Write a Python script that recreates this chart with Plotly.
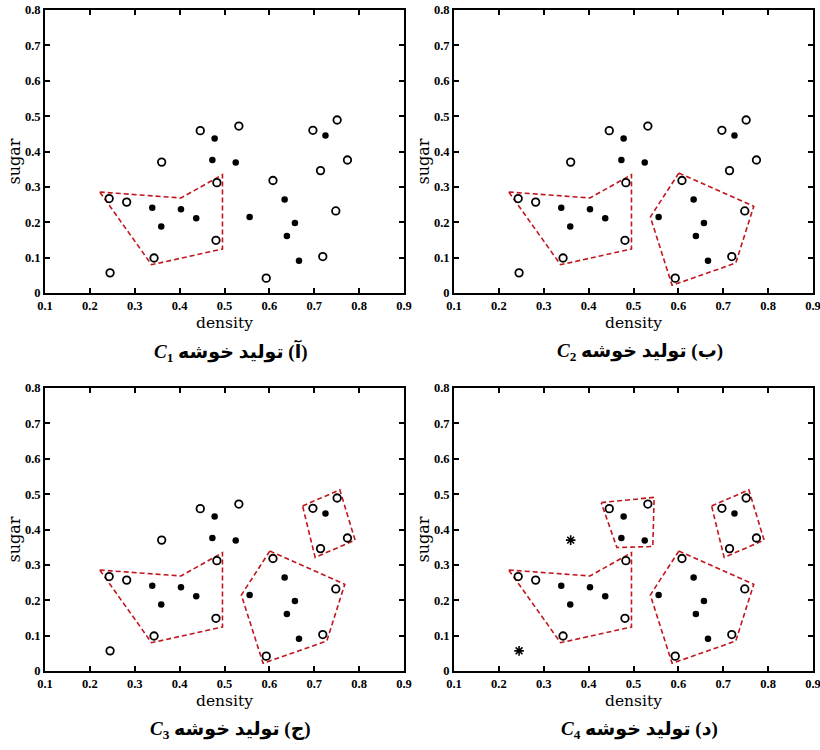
import plotly.graph_objects as go

# ---- data (watermelon dataset: density, sugar) ----
density = [0.697, 0.774, 0.634, 0.608, 0.556, 0.403, 0.481, 0.437, 0.666, 0.243,
           0.245, 0.343, 0.639, 0.657, 0.360, 0.593, 0.719, 0.359, 0.339, 0.282,
           0.748, 0.714, 0.483, 0.478, 0.525, 0.751, 0.532, 0.473, 0.725, 0.446]
sugar = [0.460, 0.376, 0.264, 0.318, 0.215, 0.237, 0.149, 0.211, 0.091, 0.267,
         0.057, 0.099, 0.161, 0.198, 0.370, 0.042, 0.103, 0.188, 0.241, 0.257,
         0.232, 0.346, 0.312, 0.437, 0.369, 0.489, 0.472, 0.376, 0.445, 0.459]
is_core = [0, 0, 1, 0, 1, 1, 0, 1, 1, 0,
           0, 0, 1, 1, 0, 0, 0, 1, 1, 0,
           0, 0, 0, 1, 1, 0, 0, 1, 1, 0]
noise_idx = [10, 14]  # shown as asterisks in the last panel

# cluster outlines (hand-drawn hulls)
c1_outline_x = [0.222, 0.403, 0.4955, 0.4955, 0.3375]
c1_outline_y = [0.2855, 0.2686, 0.3345, 0.1244, 0.080]
c2_outline_x = [0.601, 0.768, 0.728, 0.586, 0.5375]
c2_outline_y = [0.339, 0.245, 0.0848, 0.0217, 0.2148]
c3_outline_x = [0.674, 0.757, 0.791, 0.702]
c3_outline_y = [0.4666, 0.512, 0.370, 0.321]
c4_outline_x = [0.428, 0.546, 0.543, 0.463]
c4_outline_y = [0.476, 0.491, 0.352, 0.349]

outlines = [(c1_outline_x, c1_outline_y), (c2_outline_x, c2_outline_y),
            (c3_outline_x, c3_outline_y), (c4_outline_x, c4_outline_y)]

x_ticks = [0.1, 0.2, 0.3, 0.4, 0.5, 0.6, 0.7, 0.8, 0.9]
x_tick_labels = ["0.1", "0.2", "0.3", "0.4", "0.5", "0.6", "0.7", "0.8", "0.9"]
y_ticks = [0, 0.1, 0.2, 0.3, 0.4, 0.5, 0.6, 0.7, 0.8]
y_tick_labels = ["0", "0.1", "0.2", "0.3", "0.4", "0.5", "0.6", "0.7", "0.8"]

panel_letters = ["آ", "ب", "ج", "د"]
panel_subs = ["1", "2", "3", "4"]

W, H = 820, 750
# panel pixel boxes on the page (left, right, top, bottom)
boxes = [(45, 404, 10, 293), (454, 813, 10, 293),
         (45, 404, 388, 671), (454, 813, 388, 671)]


def px_x(v):
    return v / W


def px_y(v):
    return 1 - v / H


RED = "#c0161c"
fig = go.Figure()
annotations = []
layout = {}

for p in range(4):
    l, r, t, b = boxes[p]
    sfx = "" if p == 0 else str(p + 1)
    xa, ya = "x" + sfx, "y" + sfx
    n_clusters = p + 1

    # outlines
    for k in range(n_clusters):
        ox, oy = outlines[k]
        fig.add_trace(go.Scatter(x=ox + [ox[0]], y=oy + [oy[0]], mode="lines",
                                 line=dict(color=RED, width=1.6, dash="5px,3px"),
                                 xaxis=xa, yaxis=ya, showlegend=False, hoverinfo="skip",
                                 cliponaxis=False))

    open_x, open_y, fill_x, fill_y, star_x, star_y = [], [], [], [], [], []
    for i in range(len(density)):
        if p == 3 and i in noise_idx:
            star_x.append(density[i]); star_y.append(sugar[i])
        elif is_core[i]:
            fill_x.append(density[i]); fill_y.append(sugar[i])
        else:
            open_x.append(density[i]); open_y.append(sugar[i])

    fig.add_trace(go.Scatter(x=open_x, y=open_y, mode="markers",
                             marker=dict(symbol="circle-open", size=7.5, color="black",
                                         line=dict(width=1.8, color="black")),
                             xaxis=xa, yaxis=ya, showlegend=False))
    fig.add_trace(go.Scatter(x=fill_x, y=fill_y, mode="markers",
                             marker=dict(symbol="circle", size=6.5, color="black"),
                             xaxis=xa, yaxis=ya, showlegend=False))
    if star_x:
        fig.add_trace(go.Scatter(x=star_x, y=star_y, mode="markers",
                                 marker=dict(symbol="asterisk-open", size=8, color="black",
                                             line=dict(width=1.6, color="black")),
                                 xaxis=xa, yaxis=ya, showlegend=False))

    common = dict(showgrid=False, zeroline=False, showline=True, linecolor="black",
                  linewidth=2, mirror="ticks", ticks="inside", ticklen=5, tickwidth=1.5,
                  tickcolor="black", automargin=False, ticklabeloverflow="allow",
                  tickfont=dict(family="Liberation Serif", size=12.5, color="black", weight="bold"))
    layout["xaxis" + sfx] = dict(common, domain=[px_x(l), px_x(r)], range=[0.1, 0.9],
                                 tickvals=x_ticks, ticktext=x_tick_labels,
                                 anchor=ya)
    layout["yaxis" + sfx] = dict(common, domain=[px_y(b), px_y(t)], range=[0, 0.8],
                                 tickvals=y_ticks, ticktext=y_tick_labels,
                                 anchor=xa)

    cx = (l + r) / 2
    # axis titles
    annotations.append(dict(x=px_x(cx), y=px_y(b + 30), xref="paper", yref="paper",
                            text="density", showarrow=False,
                            font=dict(family="DejaVu Serif", size=15.5, color="black"),
                            xanchor="center", yanchor="middle"))
    annotations.append(dict(x=px_x(l - 31), y=px_y((t + b) / 2 + 10), xref="paper", yref="paper",
                            text="sugar", showarrow=False, textangle=-90,
                            font=dict(family="DejaVu Serif", size=16, color="black"),
                            xanchor="center", yanchor="middle"))
    # panel caption
    caption = ("<b><i>C</i></b><b><sub>" + panel_subs[p] + "</sub></b> \u200f<b>(" +
               panel_letters[p] + ") تولید خوشه</b>")
    annotations.append(dict(x=px_x(cx + 6), y=px_y(b + 59), xref="paper", yref="paper",
                            text=caption, showarrow=False,
                            font=dict(family="Liberation Serif, DejaVu Sans", size=19, color="black"),
                            xanchor="center", yanchor="middle"))

fig.update_layout(width=W, height=H, margin=dict(l=0, r=0, t=0, b=0),
                  paper_bgcolor="white", plot_bgcolor="white", template="none",
                  annotations=annotations, **layout)

fig.write_html("out.html", config={"displayModeBar": False},
               post_script="document.body.style.margin='0';document.body.style.overflow='hidden';")
